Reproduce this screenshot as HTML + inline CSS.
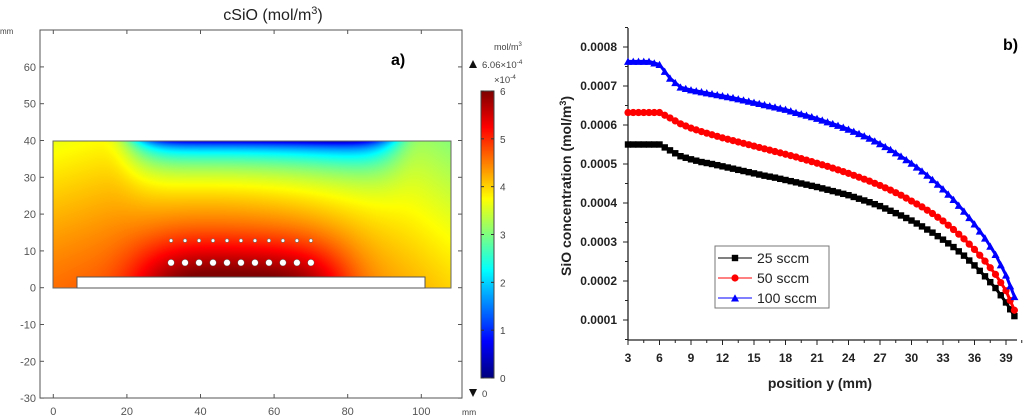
<!DOCTYPE html>
<html><head><meta charset="utf-8">
<style>
body{margin:0;background:#fff;width:1024px;height:416px;overflow:hidden;font-family:"Liberation Sans",sans-serif;}
svg{position:absolute;left:0;top:0}
canvas{position:absolute}
</style></head><body>
<canvas id="heat" width="398" height="147" style="left:53px;top:141px"></canvas>
<canvas id="cbar" width="13" height="287" style="left:481px;top:91px"></canvas>
<svg id="s" width="1024" height="416"></svg>
<script>
// ---- panel b data ----
const xPos=[3,4,5,6,7,8,9,10,11,12,13,14,15,16,17,18,19,20,21,22,23,24,25,26,27,28,29,30,31,32,33,34,35,36,37,38,39,39.8];
const s25=[.00055,.00055,.00055,.00055,.000535,.00052,.000512,.000505,.0005,.000494,.000488,.000482,.000476,.00047,.000465,.000459,.000453,.000447,.000441,.000434,.000427,.00042,.000411,.000402,.000392,.00038,.000368,.000355,.00034,.000324,.000306,.000287,.000265,.00024,.000212,.000182,.000145,.00011];
const s50=[.000632,.000632,.000632,.000632,.000618,.000603,.000592,.000583,.000575,.000567,.00056,.000553,.000546,.000539,.000532,.000525,.000518,.00051,.000502,.000494,.000485,.000476,.000466,.000456,.000445,.000433,.00042,.000405,.00039,.000373,.000354,.000332,.000308,.000281,.000251,.000217,.000175,.000125];
const s100=[.000763,.000763,.000763,.000755,.00072,.000697,.00069,.000685,.00068,.000675,.00067,.000664,.000658,.000652,.000646,.00064,.000632,.000625,.000617,.000608,.000599,.000589,.000578,.000566,.000552,.000537,.00052,.000502,.000482,.00046,.000436,.000409,.000379,.000346,.00031,.000268,.000215,.00016];
const xTicks=[3,6,9,12,15,18,21,24,27,30,33,36,39];
const yTicks=[0.0001,0.0002,0.0003,0.0004,0.0005,0.0006,0.0007,0.0008];
const leftXTicks=[0,20,40,60,80,100];
const leftYTicks=[-30,-20,-10,0,10,20,30,40,50,60];
const cbTicks=[0,1,2,3,4,5,6];

const NS="http://www.w3.org/2000/svg";
const svg=document.getElementById('s');
function el(tag,attrs,parent){const e=document.createElementNS(NS,tag);for(const k in attrs)e.setAttribute(k,attrs[k]);(parent||svg).appendChild(e);return e;}
function txt(x,y,t,attrs,parent){const e=el('text',Object.assign({x:x,y:y},attrs||{}),parent);e.textContent=t;return e;}

// ---- panel a ----
const LX=v=>53.3+v*3.68, LY=v=>287.7-v*3.68;
const title=el('text',{x:273,y:20,'text-anchor':'middle','font-size':'16',fill:'#222'});
title.innerHTML='cSiO (mol/m<tspan dy="-6" font-size="11">3</tspan><tspan dy="6">)</tspan>';

const frame=el('rect',{x:40,y:30,width:422,height:368,fill:'none',stroke:'#555','stroke-width':1});

txt(0,34,'mm',{'font-size':'8',fill:'#444'});
txt(462,415,'mm',{'font-size':'8.5',fill:'#444'});
leftXTicks.forEach(v=>{el('line',{x1:LX(v),x2:LX(v),y1:398,y2:394,stroke:'#555'});el('line',{x1:LX(v),x2:LX(v),y1:30,y2:34,stroke:'#555'});
 const t=txt(LX(v),415,v,{'text-anchor':'middle','font-size':'11',fill:'#555'});});
leftYTicks.forEach(v=>{el('line',{x1:40,x2:44,y1:LY(v),y2:LY(v),stroke:'#555'});el('line',{x1:462,x2:458,y1:LY(v),y2:LY(v),stroke:'#555'});
 const t=txt(36,LY(v)+4,v,{'text-anchor':'end','font-size':'11',fill:'#555'});});
el('rect',{x:53,y:141,width:398,height:147,fill:'none',stroke:'#666','stroke-width':1});
el('rect',{x:77,y:277,width:348,height:11,fill:'#fff',stroke:'#555','stroke-width':1});
for(let i=0;i<11;i++){const cx=LX(32+i*3.8);
 el('circle',{cx:cx,cy:LY(12.8),r:1.8,fill:'#fff',stroke:'#666','stroke-width':0.6});
 el('circle',{cx:cx,cy:LY(6.8),r:3.3,fill:'#fff',stroke:'#444','stroke-width':0.4});}
txt(391,65,'a)',{'font-size':'16','font-weight':'bold'});
// colorbar labels
const u=el('text',{x:494,y:50,'font-size':'9',fill:'#444'});u.innerHTML='mol/m<tspan dy="-4" font-size="6">3</tspan>';
el('polygon',{points:'469,68 477,68 473,60',fill:'#111'});
const m1=el('text',{x:482,y:68,'font-size':'9.5',fill:'#444'});m1.innerHTML='6.06×10<tspan dy="-4" font-size="6.5">-4</tspan>';
const m2=el('text',{x:494,y:83,'font-size':'9.5',fill:'#444'});m2.innerHTML='×10<tspan dy="-4" font-size="6.5">-4</tspan>';
el('polygon',{points:'469,389 477,389 473,397',fill:'#111'});
txt(482,397,'0',{'font-size':'9.5',fill:'#444'});
el('rect',{x:481,y:91,width:13,height:287,fill:'none',stroke:'#444'});
cbTicks.forEach(v=>{const y=378-v*287/6;el('line',{x1:481,x2:484,y1:y,y2:y,stroke:'#333'});el('line',{x1:494,x2:491,y1:y,y2:y,stroke:'#333'});
 txt(500,y+4,v,{'font-size':'10',fill:'#444'});});

function jet(t){t=Math.max(0,Math.min(1,t));
 const r=Math.max(0,Math.min(1,1.5-Math.abs(4*t-3))),g=Math.max(0,Math.min(1,1.5-Math.abs(4*t-2))),b=Math.max(0,Math.min(1,1.5-Math.abs(4*t-1)));return [r*255,g*255,b*255];}
function field(x,y){
 const a=4.6-0.6*x/108+0.5*Math.sin(Math.PI*x/108);
 let v=a-0.95*Math.pow(y/40,1.2);
 v+=1.4*Math.exp(-Math.pow((x-51)/28,4))*Math.exp(-Math.pow(y/13,2));
 v-=2.6*Math.exp(-Math.pow((x-57)/36,8))*Math.exp(-(40-y)/7);
 v-=0.7*Math.exp(-Math.pow((x-57)/34,8))*Math.exp(-(40-y)/1.2);
 return v;}
(function(){const c=document.getElementById('heat'),ctx=c.getContext('2d'),im=ctx.createImageData(398,147);
 for(let j=0;j<147;j++)for(let i=0;i<398;i++){const x=i/3.68,y=40-j/3.68;const col=jet(field(x,y)/6);const k=(j*398+i)*4;im.data[k]=col[0];im.data[k+1]=col[1];im.data[k+2]=col[2];im.data[k+3]=255;}
 ctx.putImageData(im,0,0);
 const cb=document.getElementById('cbar'),cx=cb.getContext('2d');
 for(let j=0;j<287;j++){const col=jet(1-j/286);cx.fillStyle=`rgb(${col[0]|0},${col[1]|0},${col[2]|0})`;cx.fillRect(0,j,13,1);}
})();

// ---- panel b ----
const BX=v=>628+(v-3)*10.5, BY=v=>359-v*390000;
const ax=el('path',{d:'M628,28 L628,340 L1017,340',fill:'none',stroke:'#222','stroke-width':1.3});

xTicks.forEach(v=>{el('line',{x1:BX(v),x2:BX(v),y1:340,y2:345,stroke:'#222'});el('line',{x1:BX(v+1.5),x2:BX(v+1.5),y1:340,y2:343,stroke:'#222'});
 const t=txt(BX(v),362,v,{'text-anchor':'middle','font-size':'12','font-weight':'bold',fill:'#222'});});
yTicks.forEach(v=>{el('line',{x1:623,x2:628,y1:BY(v),y2:BY(v),stroke:'#222'});el('line',{x1:625,x2:628,y1:BY(v-0.00005),y2:BY(v-0.00005),stroke:'#222'});
 const t=txt(617,BY(v)+4,v.toFixed(4),{'text-anchor':'end','font-size':'12','font-weight':'bold',fill:'#222'});});
el('line',{x1:625,x2:628,y1:BY(0.00085),y2:BY(0.00085),stroke:'#222'});
const xl=txt(820,388,'position y (mm)',{'text-anchor':'middle','font-size':'14','font-weight':'bold',fill:'#222'});
const yl=el('text',{x:0,y:0,'text-anchor':'middle','font-size':'14','font-weight':'bold',fill:'#222',transform:'translate(571,186) rotate(-90)'});
yl.innerHTML='SiO concentration (mol/m<tspan dy="-5" font-size="9">3</tspan><tspan dy="5">)</tspan>';

txt(1003,50,'b)',{'font-size':'16','font-weight':'bold'});

function marker(g,type,x,y,col){
 if(type==='sq')el('rect',{x:x-3.2,y:y-3.2,width:6.4,height:6.4,fill:col},g);
 else if(type==='c')el('circle',{cx:x,cy:y,r:3.6,fill:col},g);
 else el('polygon',{points:`${x-4},${y+3.5} ${x+4},${y+3.5} ${x},${y-3.8}`,fill:col},g);}
[[s25,'#000','sq','series-25sccm'],[s50,'#f00','c','series-50sccm'],[s100,'#00f','t','series-100sccm']].forEach(([d,col,m,name])=>{
 const g=el('g',{});
 el('polyline',{points:d.map((v,i)=>BX(xPos[i])+','+BY(v)).join(' '),fill:'none',stroke:col,'stroke-width':3},g);
 d.forEach((v,i)=>{marker(g,m,BX(xPos[i]),BY(v),col);
  if(i<d.length-1){marker(g,m,(BX(xPos[i])+BX(xPos[i+1]))/2,(BY(v)+BY(d[i+1]))/2,col);}});
});
const lg=el('g',{});
el('rect',{x:715,y:246,width:114,height:62,fill:'#fff',stroke:'#777','stroke-width':1},lg);
[['25 sccm','#000','sq',258],['50 sccm','#f00','c',278],['100 sccm','#00f','t',298]].forEach(([l,col,m,y])=>{
 el('line',{x1:718,x2:752,y1:y,y2:y,stroke:col,'stroke-width':1},lg);marker(lg,m,735,y,col);
 const t=txt(757,y+5,l,{'font-size':'14',fill:'#222'},lg);});
</script>
</body></html>
